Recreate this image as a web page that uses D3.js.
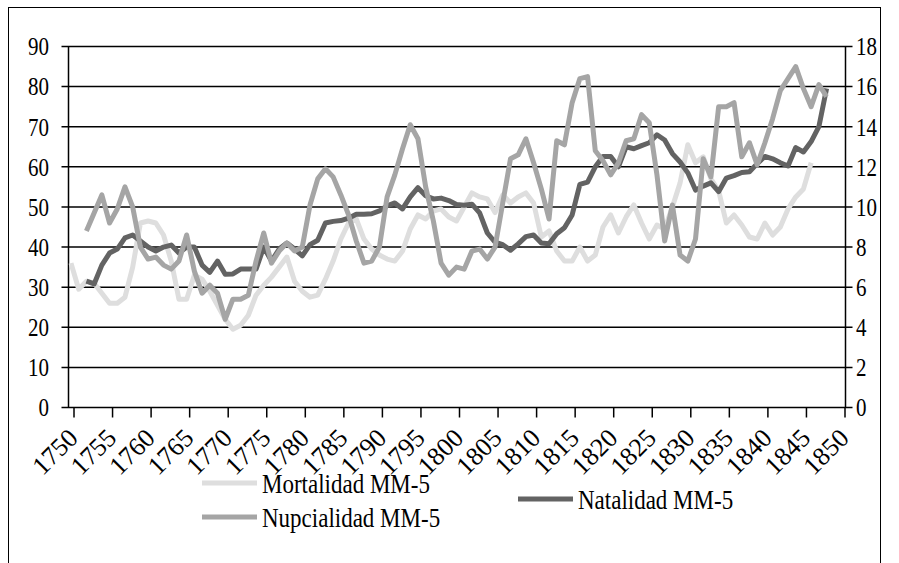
<!DOCTYPE html>
<html>
<head>
<meta charset="utf-8">
<script src="https://cdn.jsdelivr.net/npm/d3@7"></script>
<style>
  body { margin: 0; background: #fff; }
  svg text { font-family: "Liberation Serif", "Times New Roman", serif; fill: #000; }
</style>
</head>
<body>
<svg width="899" height="563"></svg>
<script>
// series values (MM-5 = 5 year moving average)
var mortStart = 1750;
var mortalidad = [
  36, 29.5, 31.5, 31, 28.5, 26, 26, 27.5, 35, 46,
  46.5, 46, 43, 36.5, 27, 27, 33, 32, 29, 25.5,
  22, 19.5, 20.5, 23, 28, 30.5, 32.5, 35, 37.5, 31.5,
  29, 27.5, 28, 32, 36.5, 42, 46, 47, 42, 39.5,
  38, 37, 36.5, 39, 44.5, 48, 47, 49, 49.5, 47.5,
  46.5, 50, 53.5, 52.5, 52, 48.6, 53, 51, 52.5, 53.5,
  51, 42.5, 44, 39, 36.5, 36.5, 40, 36.5, 38, 45,
  48, 43.5, 47.5, 50.5, 46, 42, 45.5, 44.5, 50, 56,
  65.5, 61, 62.5, 57, 54, 46, 48, 45.5, 42.5, 42,
  46, 43, 45, 49.5, 52.5, 54.5, 61
];

var natStart = 1752;
var natalidad = [
  31.5, 30.8, 35.5, 38.5, 39.5, 42.3, 43, 41.5,
  40, 39, 40, 40.5, 38.5, 40, 40, 35.5, 33.7, 36.5,
  33.2, 33.3, 34.5, 34.5, 34.5, 40, 36.5, 39.5, 41, 39.5,
  37.8, 40.6, 41.7, 46, 46.4, 46.6, 47.2, 48.2, 48.2, 48.3,
  49, 50.3, 51, 49.5, 52.5, 54.8, 52.8, 52, 52.2, 51.6,
  50.6, 50.4, 50.7, 48.5, 43.5, 41.2, 40.6, 39.2, 40.8, 42.6,
  43, 41, 40.8, 43.3, 44.8, 48, 55.6, 56.2, 60, 62.6,
  62.6, 60, 65, 64.5, 65.3, 66, 68, 66.7, 63.3, 61.2,
  58.5, 54.2, 55.2, 56, 53.8, 57.2, 57.8, 58.6, 58.8, 60.8,
  62.6, 62, 61, 60.2, 64.8, 63.7, 66.3, 70, 79.5
];

// secondary axis
var nupStart = 1752;
var nupcialidad = [
  8.8, 9.7, 10.6, 9.2, 9.9, 11.0, 10.0, 8.0,
  7.4, 7.5, 7.1, 6.9, 7.3, 8.6, 6.8, 5.7, 6.1, 5.7,
  4.4, 5.4, 5.4, 5.6, 7.3, 8.7, 7.2, 7.8, 8.2, 7.8,
  8.0, 10.1, 11.4, 11.9, 11.5, 10.6, 9.6, 8.3, 7.2, 7.3,
  8.0, 10.5, 11.6, 12.9, 14.1, 13.4, 11.0, 9.3, 7.2, 6.6,
  7.0, 6.9, 7.8, 7.9, 7.4, 8.0, 10.2, 12.4, 12.6, 13.4,
  12.2, 10.9, 9.4, 13.3, 13.1, 15.2, 16.4, 16.5, 12.8, 12.3,
  11.6, 12.2, 13.3, 13.4, 14.6, 14.2, 11.6, 8.3, 10.1, 7.6,
  7.3, 8.4, 12.4, 11.5, 15.0, 15.0, 15.2, 12.5, 13.2, 12.1,
  13.2, 14.4, 15.8, 16.4, 17.0, 15.9, 15.0, 16.1, 15.5
];

var yearTicks = d3.range(1750, 1851, 5);
var leftTicks = d3.range(0, 91, 10);
var rightTicks = d3.range(0, 19, 2);

var seriesNames = ['Mortalidad MM-5', 'Nupcialidad MM-5', 'Natalidad MM-5'];
var colors = { mort: '#dedede', nup: '#a5a5a5', nat: '#636363' };

var svg = d3.select('svg');

var plotLeft = 68.5, plotRight = 845.5, plotTop = 46.5, plotBottom = 407.5;

var xScale = d3.scaleLinear()
  .domain([1750, 1850])
  .range([71, 842]);
var tickOffset = 3;

var yLeft = d3.scaleLinear()
  .domain([0, 90])
  .range([plotBottom, plotTop]);

var yRight = d3.scaleLinear()
  .domain([0, 18])
  .range([plotBottom, plotTop]);

// outer frame
svg.append('rect')
  .attr('x', 8.5).attr('y', 7.5)
  .attr('width', 872).attr('height', 620)
  .attr('fill', 'none')
  .attr('stroke', '#000')
  .attr('stroke-width', 1);

// gridlines with outer tick stubs on both sides
svg.append('g')
  .selectAll('line')
  .data(leftTicks)
  .enter()
  .append('line')
    .attr('x1', plotLeft - 7)
    .attr('x2', plotRight + 7)
    .attr('y1', function(d) { return yLeft(d); })
    .attr('y2', function(d) { return yLeft(d); })
    .attr('stroke', '#000')
    .attr('stroke-width', 1.5);

// vertical axis lines
svg.append('line')
  .attr('x1', plotLeft).attr('x2', plotLeft)
  .attr('y1', plotTop).attr('y2', plotBottom)
  .attr('stroke', '#000').attr('stroke-width', 1.5);
svg.append('line')
  .attr('x1', plotRight).attr('x2', plotRight)
  .attr('y1', plotTop).attr('y2', plotBottom)
  .attr('stroke', '#000').attr('stroke-width', 1.5);

// left labels (text in the original is a bit stretched vertically)
svg.append('g')
  .selectAll('text')
  .data(leftTicks)
  .enter()
  .append('text')
    .attr('transform', function(d) { return 'translate(49,' + yLeft(d) + ') scale(1,1.2)'; })
    .attr('dy', '0.35em')
    .attr('text-anchor', 'end')
    .style('font-size', '21px')
    .text(function(d) { return d; });

// right labels
svg.append('g')
  .selectAll('text')
  .data(rightTicks)
  .enter()
  .append('text')
    .attr('transform', function(d) { return 'translate(856,' + yRight(d) + ') scale(1,1.2)'; })
    .attr('dy', '0.35em')
    .attr('text-anchor', 'start')
    .style('font-size', '21px')
    .text(function(d) { return d; });

// x ticks
svg.append('g')
  .selectAll('line')
  .data(yearTicks)
  .enter()
  .append('line')
    .attr('x1', function(d) { return xScale(d) + tickOffset; })
    .attr('x2', function(d) { return xScale(d) + tickOffset; })
    .attr('y1', plotBottom)
    .attr('y2', plotBottom + 10)
    .attr('stroke', '#000')
    .attr('stroke-width', 1.5);

// x labels, rotated
svg.append('g')
  .selectAll('text')
  .data(yearTicks)
  .enter()
  .append('text')
    .attr('transform', function(d) {
      return 'translate(' + (xScale(d) + tickOffset - 1) + ',' + 433 + ') rotate(-45)';
    })
    .attr('text-anchor', 'end')
    .attr('dy', '0.35em')
    .style('font-size', '26px')
    .text(function(d) { return d; });

function toPoints(values, start) {
  return values.map(function(v, i) { return { year: start + i, v: v }; });
}

var lineLeft = d3.line()
  .x(function(d) { return xScale(d.year); })
  .y(function(d) { return yLeft(d.v); });

var lineRight = d3.line()
  .x(function(d) { return xScale(d.year); })
  .y(function(d) { return yRight(d.v); });

function drawSeries(path, color) {
  svg.append('path')
    .attr('d', path)
    .attr('fill', 'none')
    .attr('stroke', color)
    .attr('stroke-width', 5)
    .attr('stroke-linejoin', 'round');
}

drawSeries(lineLeft(toPoints(mortalidad, mortStart)), colors.mort);
drawSeries(lineLeft(toPoints(natalidad, natStart)), colors.nat);
drawSeries(lineRight(toPoints(nupcialidad, nupStart)), colors.nup);

// legend
var legend = [
  { name: seriesNames[0], color: colors.mort, x: 202, y: 483 },
  { name: seriesNames[1], color: colors.nup, x: 202, y: 517 },
  { name: seriesNames[2], color: colors.nat, x: 518, y: 499 }
];

var items = svg.append('g')
  .selectAll('g')
  .data(legend)
  .enter()
  .append('g')
    .attr('transform', function(d) { return 'translate(' + d.x + ',' + d.y + ')'; });

items.append('line')
  .attr('x1', 0).attr('x2', 55)
  .attr('y1', 0).attr('y2', 0)
  .attr('stroke', function(d) { return d.color; })
  .attr('stroke-width', 5);

items.append('text')
  .attr('transform', 'translate(60,0) scale(1,1.2)')
  .attr('dy', '0.35em')
  .style('font-size', '23px')
  .text(function(d) { return d.name; });
</script>
</body>
</html>
